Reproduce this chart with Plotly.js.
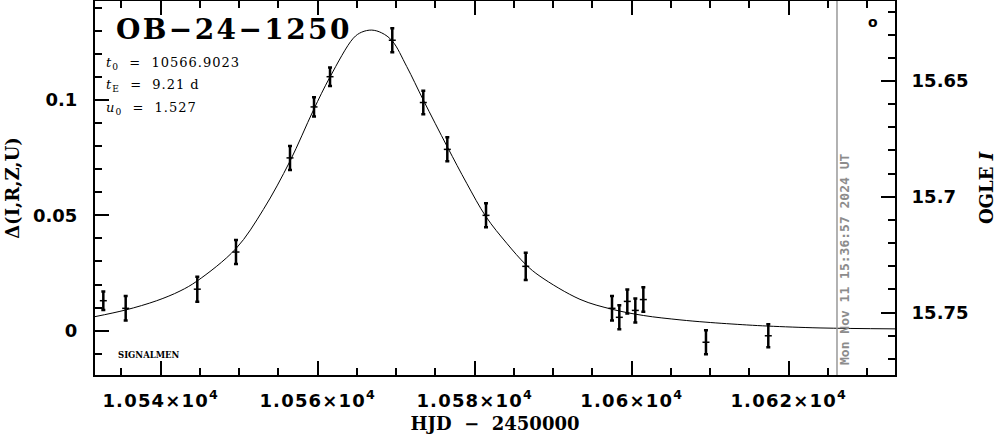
<!DOCTYPE html>
<html>
<head>
<meta charset="utf-8">
<script src="https://cdn.plot.ly/plotly-3.0.1.min.js"></script>
<style>html,body{margin:0;padding:0;background:#fff;}#chart{width:999px;height:434px;}</style>
</head>
<body>
<div id="chart"></div>
<script>
// Observations (HJD - 2450000), delta flux and its error
const hjd = [10532.69, 10535.54, 10544.66, 10549.59, 10556.47, 10559.53, 10561.57, 10569.50, 10573.45, 10576.51, 10581.44, 10586.50, 10597.49, 10598.42, 10599.44, 10600.46, 10601.48, 10609.46, 10617.40];
const delta = [0.0130, 0.0097, 0.0180, 0.0341, 0.0749, 0.0970, 0.1101, 0.1259, 0.0989, 0.0786, 0.0500, 0.0279, 0.0097, 0.0058, 0.0127, 0.0088, 0.0135, -0.0050, -0.0022];
const deltaErr = [0.0040, 0.0053, 0.0054, 0.0052, 0.0052, 0.0042, 0.0040, 0.0052, 0.0051, 0.0052, 0.0052, 0.0059, 0.0053, 0.0052, 0.0052, 0.0052, 0.0053, 0.0052, 0.0050];

// Model curve
const modelHjd = [10531.63, 10535.54, 10539.49, 10542.46, 10544.62, 10549.59, 10553.07, 10556.47, 10559.44, 10561.57, 10564.54, 10565.60, 10566.88, 10568.15, 10569.50, 10571.34, 10573.45, 10576.51, 10578.98, 10581.44, 10584.08, 10586.50, 10588.32, 10593.41, 10597.49, 10601.48, 10606.15, 10609.46, 10614.65, 10617.40, 10623.99, 10633.54];
const modelDelta = [0.0061, 0.0090, 0.0130, 0.0172, 0.0215, 0.0356, 0.0525, 0.0735, 0.0955, 0.1100, 0.1268, 0.1294, 0.1303, 0.1291, 0.1256, 0.1145, 0.1000, 0.0797, 0.0639, 0.0494, 0.0379, 0.0287, 0.0236, 0.0136, 0.0093, 0.0066, 0.0047, 0.0037, 0.0025, 0.0020, 0.0012, 0.0008];

// Axis ticks and labels
const xTickVals = [10540, 10560, 10580, 10600, 10620];
const xTickText = ['1.054×10<sup>4</sup>', '1.056×10<sup>4</sup>', '1.058×10<sup>4</sup>', '1.06×10<sup>4</sup>', '1.062×10<sup>4</sup>'];

// Event info
const eventName = 'OB−24−1250';
const paramLines = ['<i>t</i><sub>0</sub>  =  10566.9023', '<i>t</i><sub>E</sub>  =  9.21 d', '<i>u</i><sub>0</sub>  =  1.527'];
const nowHJD = 10626.15;
const nowText = 'Mon Nov 11 15:36:57 2024 UT';

const tickFont = {family: 'DejaVu Sans', size: 18, color: '#000', weight: 700};
const titleFont = {family: 'DejaVu Serif', size: 18, color: '#000', weight: 700};

const traces = [
  {
    x: modelHjd, y: modelDelta, type: 'scatter', mode: 'lines',
    line: {color: '#000', width: 1, shape: 'spline', smoothing: 1},
    hoverinfo: 'skip'
  },
  {
    x: hjd, y: delta, type: 'scatter', mode: 'markers',
    marker: {symbol: 'line-ew-open', size: 5, color: '#000', line: {color: '#000', width: 1.5}},
    error_y: {type: 'data', array: deltaErr, visible: true, color: '#000', thickness: 2.5, width: 2}
  },
  {
    x: [], y: [], yaxis: 'y2', type: 'scatter', mode: 'markers', hoverinfo: 'skip'
  }
];

const annotations = [
  {xref: 'paper', yref: 'paper', x: (114 - 95) / 800, y: (375 - 30) / 374, xanchor: 'left', yanchor: 'middle', align: 'left',
   text: eventName, showarrow: false, font: {family: 'DejaVu Serif', size: 28, color: '#000', weight: 700}},
  {xref: 'paper', yref: 'paper', x: (116 - 95) / 800, y: (375 - 355) / 374, xanchor: 'left', yanchor: 'middle', align: 'left',
   text: 'SIGNALMEN', showarrow: false, font: {family: 'DejaVu Serif', size: 8.5, color: '#000', weight: 700}},
  {xref: 'x', yref: 'paper', x: nowHJD, xshift: 7, y: (375 - 259) / 374, xanchor: 'center', yanchor: 'middle',
   text: nowText, textangle: -90, showarrow: false, font: {family: 'DejaVu Sans Mono', size: 13, color: '#8c8c8c', weight: 700}},
  {xref: 'paper', yref: 'paper', x: (873 - 95) / 800, y: (375 - 22) / 374, xanchor: 'center', yanchor: 'middle',
   text: 'o', showarrow: false, font: {family: 'DejaVu Sans', size: 14, color: '#000', weight: 700}}
];
paramLines.forEach((t, i) => {
  annotations.push({xref: 'paper', yref: 'paper', x: (104 - 95) / 800, y: (375 - (63 + 22.5 * i)) / 374,
    xanchor: 'left', yanchor: 'middle', align: 'left', text: t, showarrow: false,
    font: {family: 'DejaVu Serif', size: 13, color: '#000'}});
});

const layout = {
  width: 999, height: 434,
  margin: {l: 95, r: 104, t: 1, b: 59, pad: 0},
  paper_bgcolor: '#fff', plot_bgcolor: '#fff',
  showlegend: false,
  xaxis: {
    range: [10531.63, 10633.54], tickmode: 'array', tickvals: xTickVals, ticktext: xTickText,
    ticks: 'inside', ticklen: 14, tickwidth: 2, tickcolor: '#000',
    showline: true, linewidth: 2, linecolor: '#000', mirror: 'ticks',
    showgrid: false, zeroline: false, tickfont: tickFont, ticklabelstandoff: 8,
    minor: {tickmode: 'linear', tick0: 10540, dtick: 5, ticks: 'inside', ticklen: 7, tickwidth: 2, tickcolor: '#000', showgrid: false},
    title: {text: 'HJD  −  2450000', font: titleFont, standoff: 10}
  },
  yaxis: {
    range: [-0.0192, 0.14291], tickmode: 'linear', tick0: 0, dtick: 0.05,
    ticks: 'inside', ticklen: 14, tickwidth: 2, tickcolor: '#000',
    showline: true, linewidth: 2, linecolor: '#000', mirror: false,
    showgrid: false, zeroline: false, tickfont: tickFont, ticklabelstandoff: 12,
    minor: {tickmode: 'linear', tick0: 0, dtick: 0.01, ticks: 'inside', ticklen: 7, tickwidth: 2, tickcolor: '#000', showgrid: false},
    title: {text: 'Δ(I,R,Z,U)', font: titleFont, standoff: 9}
  },
  yaxis2: {
    overlaying: 'y', side: 'right', anchor: 'x',
    range: [15.77694, 15.61546], tickmode: 'linear', tick0: 15.6, dtick: 0.05,
    ticks: 'inside', ticklen: 14, tickwidth: 2, tickcolor: '#000',
    showline: true, linewidth: 2, linecolor: '#000',
    showgrid: false, zeroline: false, tickfont: tickFont, ticklabelstandoff: 11,
    minor: {tickmode: 'linear', tick0: 15.6, dtick: 0.01, ticks: 'inside', ticklen: 7, tickwidth: 2, tickcolor: '#000', showgrid: false},
    title: {text: 'OGLE <i>I</i>', font: titleFont, standoff: 13}
  },
  shapes: [
    {type: 'line', xref: 'x', yref: 'paper', x0: nowHJD, x1: nowHJD, y0: 0, y1: 1,
     line: {color: '#999', width: 1.5}}
  ],
  annotations: annotations
};

Plotly.newPlot('chart', traces, layout, {staticPlot: true, displayModeBar: false}).then(() => {
  // widen the spacing of the left-aligned texts to match the reference's wide lettering
  const spacing = {0: '2.4px', 4: '1px', 5: '1px', 6: '1px'};
  document.querySelectorAll('#chart g.annotation').forEach(g => {
    const idx = g.getAttribute('data-index');
    if (spacing[idx] !== undefined) {
      const t = g.querySelector('text.annotation-text');
      if (t) t.style.letterSpacing = spacing[idx];
    }
  });
  document.querySelectorAll('#chart g.xtick text').forEach(t => { t.style.letterSpacing = '1.2px'; });
});
</script>
</body>
</html>
